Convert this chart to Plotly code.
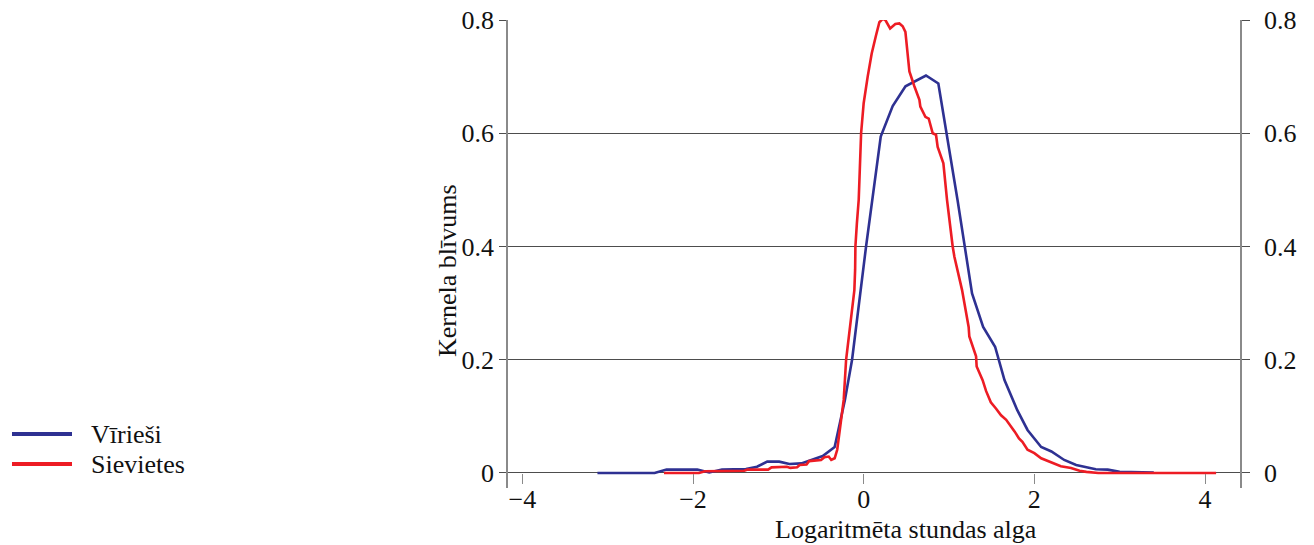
import plotly.graph_objects as go

# Kernel density of log hourly wage, by sex
SERIES_NAMES = ["Vīrieši", "Sievietes"]
SERIES_COLORS = ["#2e3192", "#ed1c24"]

men_x = [-3.12, -2.45, -2.31, -1.95, -1.81, -1.66, -1.38, -1.25, -1.13, -0.99,
         -0.87, -0.73, -0.48, -0.34, -0.22, -0.136, 0.028, 0.10, 0.20, 0.34,
         0.49, 0.73, 0.875, 1.10, 1.19, 1.27, 1.40, 1.54, 1.65, 1.75,
         1.80, 1.92, 2.08, 2.20, 2.35, 2.49, 2.72, 2.86, 3.00, 3.40]
men_y = [0.0, 0.0, 0.006, 0.006, 0.001, 0.006, 0.007, 0.011, 0.020, 0.020,
         0.016, 0.017, 0.030, 0.046, 0.129, 0.200, 0.400, 0.483, 0.594, 0.648,
         0.683, 0.702, 0.688, 0.482, 0.395, 0.317, 0.258, 0.223, 0.164, 0.129,
         0.111, 0.076, 0.046, 0.038, 0.023, 0.014, 0.0065, 0.006, 0.002, 0.001]

women_x = [-2.34, -1.93, -1.86, -1.40, -1.36, -1.12, -1.08, -0.90, -0.86, -0.78,
           -0.75, -0.67, -0.64, -0.50, -0.46, -0.41, -0.38, -0.34, -0.31, -0.27,
           -0.234, -0.206, -0.109, -0.10, -0.097, -0.08, -0.058, -0.03, 0.0, 0.047,
           0.094, 0.145, 0.184, 0.223, 0.254, 0.31, 0.371, 0.418, 0.457, 0.489,
           0.504, 0.536, 0.594, 0.653, 0.664, 0.723, 0.762, 0.809, 0.848, 0.867,
           0.934, 0.977, 1.043, 1.063, 1.153, 1.168, 1.23, 1.238, 1.317, 1.324,
           1.394, 1.434, 1.49, 1.55, 1.61, 1.67, 1.73, 1.77, 1.82, 1.86,
           1.92, 2.00, 2.08, 2.18, 2.31, 2.43, 2.53, 2.61, 2.75, 4.13]
women_y = [0.0, 0.0, 0.003, 0.004, 0.006, 0.006, 0.010, 0.011, 0.009, 0.010,
           0.014, 0.015, 0.021, 0.023, 0.028, 0.029, 0.023, 0.026, 0.041, 0.090,
           0.129, 0.200, 0.323, 0.360, 0.400, 0.440, 0.483, 0.600, 0.653, 0.700,
           0.741, 0.773, 0.796, 0.802, 0.800, 0.785, 0.793, 0.794, 0.789, 0.779,
           0.753, 0.709, 0.683, 0.659, 0.647, 0.629, 0.626, 0.600, 0.597, 0.576,
           0.547, 0.482, 0.400, 0.382, 0.323, 0.311, 0.258, 0.241, 0.206, 0.188,
           0.164, 0.145, 0.125, 0.114, 0.102, 0.094, 0.082, 0.073, 0.061, 0.055,
           0.041, 0.035, 0.026, 0.020, 0.012, 0.009, 0.004, 0.002, 0.0, 0.0]

x_ticks = [-4, -2, 0, 2, 4]
x_tick_text = ["−4", "−2", "0", "2", "4"]
y_ticks = [0, 0.2, 0.4, 0.6, 0.8]
y_tick_text = ["0", "0.2", "0.4", "0.6", "0.8"]

X_TITLE = "Logaritmēta stundas alga"
Y_TITLE = "Kernela blīvums"

FONT = "Liberation Serif"
FSIZE = 26
GRID = "#4d4d4d"
AXIS = "#8a8a8a"

fig = go.Figure()
for xs, ys, name, color in [(men_x, men_y, SERIES_NAMES[0], SERIES_COLORS[0]),
                            (women_x, women_y, SERIES_NAMES[1], SERIES_COLORS[1])]:
    fig.add_trace(go.Scatter(x=xs, y=ys, mode="lines", name=name,
                             line=dict(color=color, width=2.6),
                             showlegend=False))

y_range = [-0.0265, 0.8]
fig.update_layout(
    width=1314, height=545, autosize=False,
    margin=dict(l=508, r=74, t=20, b=57, pad=0),
    paper_bgcolor="white", plot_bgcolor="white",
    font=dict(family=FONT, size=FSIZE, color="#111111"),
    xaxis=dict(range=[-4.168, 4.41], tickvals=x_ticks, ticktext=x_tick_text,
               anchor="free", position=15 / 468, showgrid=False, zeroline=False,
               showline=False, ticks="outside", ticklen=10, tickwidth=1.4,
               tickcolor=AXIS, automargin=False, ticklabelstandoff=-7),
    yaxis=dict(range=y_range, tickvals=y_ticks, ticktext=y_tick_text,
               showgrid=True, gridcolor=GRID, gridwidth=1.3, zeroline=False,
               showline=True, linecolor=AXIS, linewidth=1.5, automargin=False,
               ticks="outside", ticklen=7, tickwidth=1.3, tickcolor=GRID),
    yaxis2=dict(range=y_range, tickvals=y_ticks, ticktext=y_tick_text,
                overlaying="y", side="right", anchor="x", showgrid=False,
                zeroline=False, showline=True, linecolor=AXIS, linewidth=1.5,
                ticks="outside", ticklen=8, tickwidth=1.3, tickcolor=GRID,
                ticklabelstandoff=9, automargin=False),
)
# invisible trace so the right axis is drawn
fig.add_trace(go.Scatter(x=[None], y=[None], yaxis="y2", showlegend=False,
                         hoverinfo="skip"))

# axis titles
fig.add_annotation(text=X_TITLE, xref="paper", yref="paper",
                   x=(906 - 508) / 732, y=(488 - 529) / 468,
                   xanchor="center", yanchor="middle", showarrow=False)
fig.add_annotation(text=Y_TITLE, xref="paper", yref="paper",
                   x=(447 - 508) / 732, y=(488 - 271) / 468, textangle=-90,
                   xanchor="center", yanchor="middle", showarrow=False)

# legend on the left
for i, (name, color) in enumerate(zip(SERIES_NAMES, SERIES_COLORS)):
    py = (488 - (434 + 30 * i)) / 468
    fig.add_shape(type="line", xref="paper", yref="paper",
                  x0=(12 - 508) / 732, x1=(72 - 508) / 732, y0=py, y1=py,
                  line=dict(color=color, width=4))
    fig.add_annotation(text=name, xref="paper", yref="paper",
                       x=(89 - 508) / 732, y=py, xanchor="left",
                       yanchor="middle", showarrow=False)

fig.write_html("out.html")
